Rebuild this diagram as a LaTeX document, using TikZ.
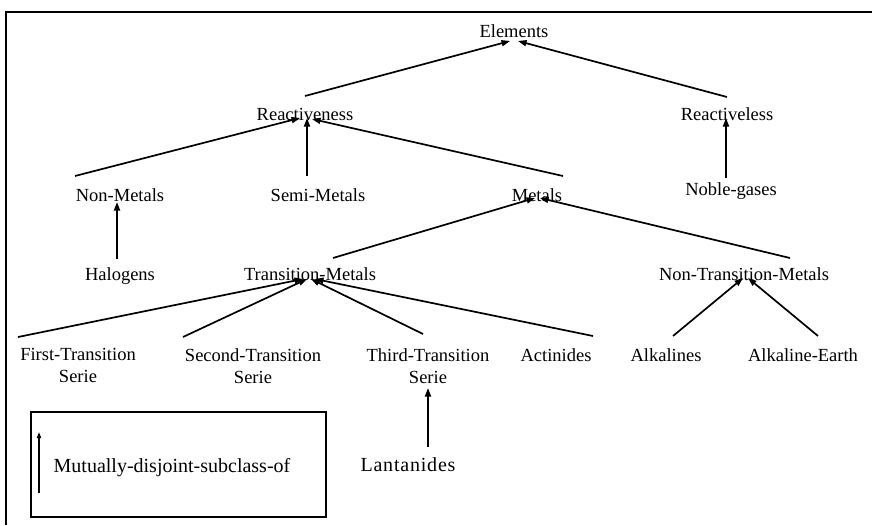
\documentclass[tikz,border=0pt]{standalone}
\usepackage{fontspec}
\setmainfont{Liberation Serif}
\usetikzlibrary{arrows.meta}
\begin{document}
\begin{tikzpicture}[x=1pt,y=-1pt,
  lbl/.style={inner sep=0pt,anchor=base,font=\fontsize{18.5}{22}\selectfont},
  lbl2/.style={inner sep=0pt,anchor=north,align=center,font=\fontsize{18.5}{22}\selectfont},
  isa/.style={line width=1.7pt,-{Triangle[length=8.5pt,width=6pt]}},
  frame/.style={line width=2pt}]
\useasboundingbox (0,0) rectangle (872,525);
% outer frame (top and left sides only)
\coordinate (fTL) at (6,12);
\coordinate (fTR) at (872,12);
\coordinate (fBL) at (6,525);
\draw[frame] (fTR) -- (fTL) -- (fBL);
% nodes
\node[lbl] (elements) at (514,37) {Elements};
\node[lbl] (reactiveness) at (305,120) {Reactiveness};
\node[lbl] (reactiveless) at (727,120) {Reactiveless};
\node[lbl] (nonmetals) at (120,201) {Non-Metals};
\node[lbl] (semimetals) at (318,201) {Semi-Metals};
\node[lbl] (metals) at (537,201) {Metals};
\node[lbl] (noble) at (731,195) {Noble-gases};
\node[lbl] (halogens) at (120,280) {Halogens};
\node[lbl] (transition) at (310,280) {Transition-Metals};
\node[lbl] (nontransition) at (744,280) {Non-Transition-Metals};
\node[lbl2] (first) at (78,348.5) {First-Transition\\Serie};
\node[lbl2] (second) at (253,348.5) {Second-Transition\\Serie};
\node[lbl2] (third) at (428,348.5) {Third-Transition\\Serie};
\node[lbl] (actinides) at (556,361) {Actinides};
\node[lbl] (alkalines) at (666,361) {Alkalines};
\node[lbl] (alkearth) at (803,361) {Alkaline-Earth};
\node[lbl,font=\fontsize{20}{24}\selectfont] (lantanides) at (408,471) {\addfontfeatures{LetterSpace=4}Lantanides};
% attachment points
\coordinate (elements-l) at (510,41);
\coordinate (elements-r) at (518,41);
\coordinate (reactiveness-top) at (305,96);
\coordinate (reactiveless-top) at (727,97);
\coordinate (reactiveness-l) at (300,118);
\coordinate (reactiveness-m) at (307,118);
\coordinate (reactiveness-r) at (312,119);
\coordinate (nonmetals-top) at (75,176);
\coordinate (semimetals-top) at (307,176);
\coordinate (metals-top) at (563,176);
\coordinate (nonmetals-in) at (117,202);
\coordinate (halogens-top) at (117,259);
\coordinate (reactiveless-in) at (726,118);
\coordinate (noble-top) at (726,178);
\coordinate (metals-l) at (535,198);
\coordinate (metals-r) at (540,198);
\coordinate (transition-top) at (333,258);
\coordinate (nontransition-top) at (790,258);
\coordinate (transition-1) at (303,279);
\coordinate (transition-2) at (307,279);
\coordinate (transition-3) at (311,279);
\coordinate (transition-4) at (315,279);
\coordinate (first-top) at (18,337);
\coordinate (second-top) at (183,337);
\coordinate (third-top) at (423,334);
\coordinate (actinides-top) at (593,336);
\coordinate (nontransition-l) at (743,278);
\coordinate (nontransition-r) at (748,278);
\coordinate (alkalines-top) at (673,336);
\coordinate (alkearth-top) at (818,336);
\coordinate (third-in) at (428,388);
\coordinate (lantanides-top) at (428,447);
% connectors
\draw[isa] (reactiveness-top) -- (elements-l);
\draw[isa] (reactiveless-top) -- (elements-r);
\draw[isa] (nonmetals-top) -- (reactiveness-l);
\draw[isa] (semimetals-top) -- (reactiveness-m);
\draw[isa] (metals-top) -- (reactiveness-r);
\draw[isa] (halogens-top) -- (nonmetals-in);
\draw[isa] (noble-top) -- (reactiveless-in);
\draw[isa] (transition-top) -- (metals-l);
\draw[isa] (nontransition-top) -- (metals-r);
\draw[isa] (first-top) -- (transition-1);
\draw[isa] (second-top) -- (transition-2);
\draw[isa] (third-top) -- (transition-3);
\draw[isa] (actinides-top) -- (transition-4);
\draw[isa] (alkalines-top) -- (nontransition-l);
\draw[isa] (alkearth-top) -- (nontransition-r);
\draw[isa] (lantanides-top) -- (third-in);
% legend
\node[draw,line width=1.6pt,minimum width=295pt,minimum height=105pt,inner sep=0pt] (legend) at (178.5,464.5) {};
\coordinate (legend-from) at (39,493);
\coordinate (legend-to) at (39,432);
\draw[line width=1.6pt,-{Triangle[length=6pt,width=4pt]}] (legend-from) -- (legend-to);
\node[inner sep=0pt,anchor=base,font=\fontsize{20}{24}\selectfont] (legendtext) at (172,472) {Mutually-disjoint-subclass-of};
\end{tikzpicture}
\end{document}
